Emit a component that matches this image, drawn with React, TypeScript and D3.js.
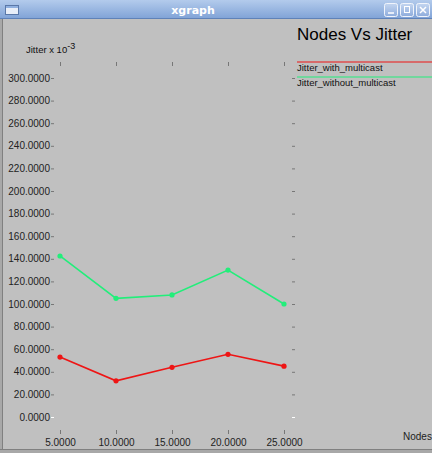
import React from "react";
import * as d3 from "d3";

const nodes = [5, 10, 15, 20, 25];
const jitterWithMulticast = [53, 32, 44, 55.5, 45];
const jitterWithoutMulticast = [142.5, 105, 108, 130, 100];
const yTicks = [0, 20, 40, 60, 80, 100, 120, 140, 160, 180, 200, 220, 240, 260, 280, 300];
const seriesNames = ["Jitter_with_multicast", "Jitter_without_multicast"];
const seriesColors = ["#ee1515", "#22ee7a"];

const W = 432;
const H = 453;

export default function App() {
  const x = d3.scaleLinear().domain([5, 25]).range([60, 284]);
  const y = d3.scaleLinear().domain([0, 300]).range([417, 78]);
  const line = d3
    .line<number>()
    .x((_, i) => x(nodes[i]))
    .y((d) => y(d));
  const series = [jitterWithMulticast, jitterWithoutMulticast];
  const font = "'Liberation Sans', Arial, sans-serif";

  return (
    <svg
      width={W}
      height={H}
      style={{ position: "absolute", left: 0, top: 0, display: "block" }}
      fontFamily={font}
    >
      <defs>
        <linearGradient id="tb" x1="0" y1="0" x2="0" y2="1">
          <stop offset="0" stopColor="#b3cbec" />
          <stop offset="1" stopColor="#7fa2d6" />
        </linearGradient>
        <linearGradient id="btn" x1="0" y1="0" x2="0" y2="1">
          <stop offset="0" stopColor="#c4d6f0" />
          <stop offset="1" stopColor="#8eacdc" />
        </linearGradient>
      </defs>
      <rect x={0} y={0} width={W} height={H} fill="#c0c0c0" />
      <rect x={0} y={0} width={W} height={19} fill="url(#tb)" />
      <line x1={0} x2={W} y1={18.5} y2={18.5} stroke="#5f82b8" />
      <rect x={5.5} y={5.5} width={13} height={9} fill="#e8eef8" stroke="#5a78a8" />
      <rect x={6} y={6} width={12} height={2} fill="#8fb0e0" />
      <text x={193} y={14} textAnchor="middle" fill="#ffffff" fontWeight="bold" fontSize={11} fontFamily="'DejaVu Sans', sans-serif">
        xgraph
      </text>
      {[384, 400, 416].map((bx, i) => (
        <g key={i}>
          <rect x={bx + 0.5} y={3.5} width={13} height={13} rx={2} fill="url(#btn)" stroke="#f0f4fb" />
          {i === 0 && <line x1={bx + 4} x2={bx + 10} y1={13} y2={13} stroke="#ffffff" strokeWidth={1.5} />}
          {i === 1 && <rect x={bx + 4.5} y={6.5} width={5} height={6} fill="none" stroke="#ffffff" />}
          {i === 2 && (
            <path d={`M${bx + 4},${7} L${bx + 10},${13} M${bx + 10},${7} L${bx + 4},${13}`} stroke="#ffffff" strokeWidth={1.5} />
          )}
        </g>
      ))}
      <rect x={0} y={19} width={3} height={H - 19} fill="#a8a8a8" />
      <line x1={2.5} x2={2.5} y1={19} y2={H} stroke="#808080" />
      <rect x={0} y={H - 4} width={W} height={4} fill="#a8a8a8" />
      <line x1={0} x2={W} y1={H - 3.5} y2={H - 3.5} stroke="#808080" />

      <text x={297} y={40} fontSize={17} fill="#000">
        Nodes Vs Jitter
      </text>
      <text x={26} y={53} fontSize={9.5} fill="#111">
        Jitter x 10
        <tspan dy={-4} fontSize={9}>-3</tspan>
      </text>

      {yTicks.map((t) => (
        <g key={t}>
          <text x={50} y={y(t) + 3.5} textAnchor="end" fontSize={10} fill="#222">
            {t.toFixed(4)}
          </text>
          <line x1={51} x2={54} y1={y(t) + 0.5} y2={y(t) + 0.5} stroke={t === 0 ? "#ffffff" : "#777"} />
          <line x1={292} x2={295} y1={y(t) + 0.5} y2={y(t) + 0.5} stroke={t === 0 ? "#ffffff" : "#777"} />
        </g>
      ))}
      {nodes.map((n) => (
        <g key={n}>
          <line x1={x(n) + 0.5} x2={x(n) + 0.5} y1={62} y2={66} stroke="#777" />
          <line x1={x(n) + 0.5} x2={x(n) + 0.5} y1={430} y2={434} stroke="#777" />
          <text x={x(n) + 0.5} y={446} textAnchor="middle" fontSize={10} fill="#222">
            {n.toFixed(4)}
          </text>
        </g>
      ))}
      <text x={403} y={440} fontSize={10} fill="#222">
        Nodes
      </text>

      {seriesNames.map((name, i) => (
        <g key={name}>
          <line x1={297} x2={W} y1={62 + i * 15} y2={62 + i * 15} stroke={seriesColors[i]} strokeWidth={1.2} />
          <text x={297} y={71 + i * 15} fontSize={9.5} fill="#111">
            {name}
          </text>
        </g>
      ))}

      {series.map((vals, i) => (
        <g key={i}>
          <path d={line(vals) || ""} fill="none" stroke={seriesColors[i]} strokeWidth={1.6} />
          {vals.map((v, j) => (
            <circle key={j} cx={x(nodes[j])} cy={y(v)} r={2.6} fill={seriesColors[i]} />
          ))}
        </g>
      ))}
    </svg>
  );
}
